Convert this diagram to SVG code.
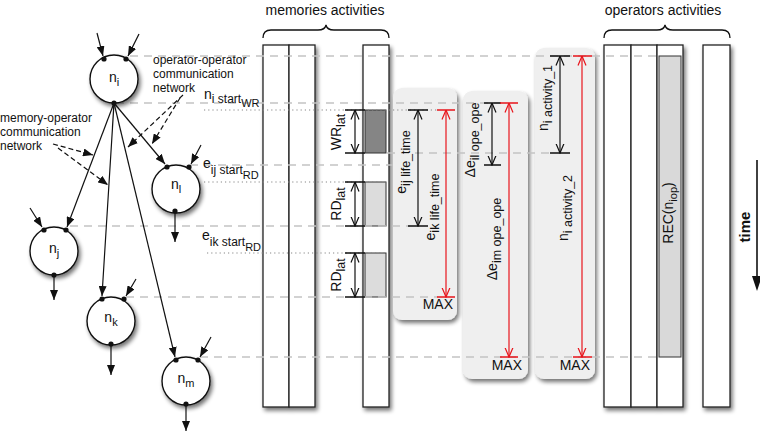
<svg xmlns="http://www.w3.org/2000/svg" width="760" height="435" viewBox="0 0 760 435">
<defs>
<style>
text{font-family:"Liberation Sans",Arial,sans-serif;fill:#111;}
.lbl{font-size:12px}
.t14{font-size:14px}
.sub{font-size:12px}
.rs{font-size:12.5px}
.ss{font-size:11px}
.col{fill:#fff;stroke:#222;stroke-width:1.3}
.gbox{fill:#efefef}
.dash{stroke:#c4c4c4;stroke-width:1.3;stroke-dasharray:8 6;fill:none}
.dot{stroke:#888;stroke-width:1.2;stroke-dasharray:1.2 3;fill:none}
.edge{stroke:#111;stroke-width:1.2;fill:none;marker-end:url(#ah)}
.net{stroke:#111;stroke-width:1.2;stroke-dasharray:5 3;fill:none;marker-end:url(#ah)}
.node{fill:#fff;stroke:#111;stroke-width:1.4}
.port{fill:#111}
.dim{stroke:#111;stroke-width:1.2;fill:none;marker-start:url(#vb);marker-end:url(#vb)}
.rdim{stroke:#e8141b;stroke-width:1.2;fill:none;marker-start:url(#vr);marker-end:url(#vr)}
.tick{stroke:#111;stroke-width:1.3}
.rtick{stroke:#e8141b;stroke-width:1.6}
.mbox{stroke:#333;stroke-width:1}
</style>
<filter id="sh" x="-30%" y="-10%" width="170%" height="125%">
<feGaussianBlur in="SourceAlpha" stdDeviation="2"/>
<feOffset dx="2" dy="3"/>
<feComponentTransfer><feFuncA type="linear" slope="0.55"/></feComponentTransfer>
<feMerge><feMergeNode/><feMergeNode in="SourceGraphic"/></feMerge>
</filter>
<marker id="ah" viewBox="0 0 10 8" refX="10" refY="4" markerWidth="10" markerHeight="8" markerUnits="userSpaceOnUse" orient="auto"><path d="M0,0 L10,4 L0,8 z" fill="#111"/></marker>
<marker id="vb" viewBox="0 0 10 10" refX="9.5" refY="5" markerWidth="10" markerHeight="10" markerUnits="userSpaceOnUse" orient="auto-start-reverse"><path d="M0,1 L9.5,5 L0,9" fill="none" stroke="#111" stroke-width="1.2"/></marker>
<marker id="vr" viewBox="0 0 10 10" refX="9.5" refY="5" markerWidth="10" markerHeight="10" markerUnits="userSpaceOnUse" orient="auto-start-reverse"><path d="M0,1 L9.5,5 L0,9" fill="none" stroke="#e8141b" stroke-width="1.2"/></marker>
</defs>

<!-- headers and braces -->
<g id="headers">
<text class="t14" x="325" y="15" text-anchor="middle">memories activities</text>
<text class="t14" x="663" y="15" text-anchor="middle">operators activities</text>
<path d="M263,38 Q263,30 271,30 L318,30 Q325,30 326,25 Q327,30 334,30 L381,30 Q389,30 389,38" fill="none" stroke="#111" stroke-width="1.3"/>
<path d="M604,38 Q604,30 612,30 L657,30 Q664,30 665,25 Q666,30 673,30 L722,30 Q730,30 730,38" fill="none" stroke="#111" stroke-width="1.3"/>
</g>

<!-- memory columns -->
<g id="memories" filter="url(#sh)">
<rect class="col" x="263" y="45" width="26" height="362"/>
<rect class="col" x="289" y="45" width="26" height="362"/>
<rect class="col" x="363" y="45" width="26" height="362"/>
</g>
<g id="mem-boxes">
<rect class="mbox" x="365" y="110" width="21" height="43" fill="#858585"/>
<rect class="mbox" x="365" y="182" width="21" height="44" fill="#dcdcdc"/>
<rect class="mbox" x="365" y="253" width="21" height="44" fill="#dcdcdc"/>
</g>

<!-- operator columns -->
<g id="operators" filter="url(#sh)">
<rect class="col" x="604" y="45" width="27" height="362"/>
<rect class="col" x="631" y="45" width="26" height="362"/>
<rect class="col" x="657" y="45" width="26" height="362"/>
<rect class="col" x="703" y="45" width="27" height="362"/>
</g>
<g id="rec">
<rect x="659" y="56" width="22" height="301" fill="#d9d9d9" stroke="#333" stroke-width="1"/>
<text class="t14" transform="translate(673,213) rotate(-90)" text-anchor="middle">REC(n<tspan class="ss" dy="4">iop</tspan><tspan dy="-4">)</tspan></text>
</g>

<!-- gray panels -->
<g id="panels" filter="url(#sh)">
<rect class="gbox" x="393" y="88" width="64" height="232" rx="9"/>
<rect class="gbox" x="463" y="91" width="65" height="288" rx="9"/>
<rect class="gbox" x="535" y="48" width="60" height="331" rx="9"/>
</g>

<!-- guide lines -->
<g id="guides">
<path class="dash" d="M130,56 H657"/>
<path class="dash" d="M116,103 H500"/>
<path class="dash" d="M387,153 H551"/>
<path class="dash" d="M190,165 H393"/>
<path class="dash" d="M70,226 H410"/>
<path class="dash" d="M126,297 H438"/>
<path class="dash" d="M200,357 H659"/>
<path class="dot" d="M204,110 H437"/>
<path class="dot" d="M204,182 H386"/>
<path class="dot" d="M207,253 H386"/>
</g>

<!-- dimension arrows -->
<g id="dims">
<path class="dim" d="M355,110 V153"/>
<path class="tick" d="M345,110 H365 M345,153 H365"/>
<path class="dim" d="M355,182 V226"/>
<path class="tick" d="M345,182 H365 M345,226 H365"/>
<path class="dim" d="M355,253 V297"/>
<path class="tick" d="M345,253 H365 M345,297 H365"/>

<path class="dim" d="M418,110 V226"/>
<path class="tick" d="M408,110 H428 M408,226 H428"/>
<path class="rdim" d="M446,110 V297"/>
<path class="rtick" d="M437,110 H455 M437,297 H455"/>

<path class="dim" d="M492,103 V165"/>
<path class="tick" d="M484,103 H501 M484,165 H501"/>
<path class="rdim" d="M509,103 V357"/>
<path class="rtick" d="M500,103 H518 M500,357 H518"/>

<path class="dim" d="M560,56 V153"/>
<path class="tick" d="M550,56 H570 M550,153 H570"/>
<path class="rdim" d="M582,56 V357"/>
<path class="rtick" d="M573,56 H592 M573,357 H592"/>
</g>

<!-- labels -->
<g id="labels">
<text class="t14" transform="translate(341,132) rotate(-90)" text-anchor="middle">WR<tspan class="rs" dy="4">lat</tspan></text>
<text class="t14" transform="translate(341,204) rotate(-90)" text-anchor="middle">RD<tspan class="rs" dy="4">lat</tspan></text>
<text class="t14" transform="translate(341,275) rotate(-90)" text-anchor="middle">RD<tspan class="rs" dy="4">lat</tspan></text>
<text class="t14" transform="translate(406,162) rotate(-90)" text-anchor="middle">e<tspan class="rs" dy="4">ij life_time</tspan></text>
<text class="t14" transform="translate(435,207) rotate(-90)" text-anchor="middle">e<tspan class="rs" dy="4">ik life_time</tspan></text>
<text class="t14" transform="translate(475,140) rotate(-90)" text-anchor="middle">Δe<tspan class="rs" dy="4">il ope_ope</tspan></text>
<text class="t14" transform="translate(497,239) rotate(-90)" text-anchor="middle">Δe<tspan class="rs" dy="4">im ope_ope</tspan></text>
<text class="t14" transform="translate(548,98) rotate(-90)" text-anchor="middle">n<tspan class="rs" dy="4">i activity_1</tspan></text>
<text class="t14" transform="translate(568,208) rotate(-90)" text-anchor="middle">n<tspan class="rs" dy="4">i activity_2</tspan></text>
<text class="t14" x="453" y="309" text-anchor="end">MAX</text>
<text class="t14" x="522" y="370" text-anchor="end">MAX</text>
<text class="t14" x="590" y="370" text-anchor="end">MAX</text>

<text class="t14" x="204" y="99">n<tspan class="sub" dy="4">i start</tspan><tspan class="ss" dy="4">WR</tspan></text>
<text class="t14" x="203" y="168">e<tspan class="sub" dy="6">ij start</tspan><tspan class="ss" dy="5">RD</tspan></text>
<text class="t14" x="202" y="240">e<tspan class="sub" dy="6">ik start</tspan><tspan class="ss" dy="5">RD</tspan></text>

<text class="lbl" x="153" y="64">operator-operator</text>
<text class="lbl" x="153" y="78">communication</text>
<text class="lbl" x="153" y="92">network</text>
<text class="lbl" x="0" y="122">memory-operator</text>
<text class="lbl" x="0" y="136">communication</text>
<text class="lbl" x="0" y="150">network</text>

<text transform="translate(750,227) rotate(-90)" text-anchor="middle" font-size="15" font-weight="bold">time</text>
</g>

<!-- connectors -->
<g id="connectors">
<path class="edge" d="M114,103 L67,227"/>
<path class="edge" d="M114,103 L102,296"/>
<path class="edge" d="M114,103 L175,357"/>
<path class="edge" d="M114,103 L165,164"/>
<path class="edge" d="M97,33 L103,56"/>
<path class="edge" d="M139,34 L128,56"/>
<path class="edge" d="M201,145 L191,164"/>
<path class="edge" d="M30,208 L42,227"/>
<path class="edge" d="M136,279 L126,296"/>
<path class="edge" d="M211,337 L200,357"/>
<path class="edge" d="M175,211 L175,242"/>
<path class="edge" d="M54,275 L54,300"/>
<path class="edge" d="M111,344 L111,375"/>
<path class="edge" d="M186,404 L186,431"/>
<path class="net" d="M183,95 L128,147"/>
<path class="net" d="M180,98 L152,144"/>
<path class="net" d="M53,144 L93,155"/>
<path class="net" d="M58,148 L108,185"/>
<path d="M757,160 V278" stroke="#111" stroke-width="1.6"/>
<path d="M752,276 L762,276 L757,291 z" fill="#111"/>
</g>

<!-- nodes -->
<g id="node-ni">
<circle class="node" cx="114" cy="79" r="24" filter="url(#sh)"/>
<circle class="port" cx="104" cy="59" r="2.6"/>
<circle class="port" cx="126" cy="59" r="2.6"/>
<circle class="port" cx="114" cy="103" r="2.6"/>
<text class="t14" x="114" y="82" text-anchor="middle">n<tspan class="ss" dy="4">i</tspan></text>
</g>
<g id="node-nl">
<circle class="node" cx="176" cy="189" r="24" filter="url(#sh)"/>
<circle class="port" cx="167" cy="167" r="2.6"/>
<circle class="port" cx="189" cy="167" r="2.6"/>
<circle class="port" cx="175" cy="211" r="2.6"/>
<text class="t14" x="176" y="189" text-anchor="middle">n<tspan class="ss" dy="4">l</tspan></text>
</g>
<g id="node-nj">
<circle class="node" cx="54" cy="251" r="24" filter="url(#sh)"/>
<circle class="port" cx="44" cy="230" r="2.6"/>
<circle class="port" cx="66" cy="230" r="2.6"/>
<circle class="port" cx="54" cy="275" r="2.6"/>
<text class="t14" x="54" y="253" text-anchor="middle">n<tspan class="ss" dy="4">j</tspan></text>
</g>
<g id="node-nk">
<circle class="node" cx="111" cy="321" r="24" filter="url(#sh)"/>
<circle class="port" cx="102" cy="299" r="2.6"/>
<circle class="port" cx="124" cy="299" r="2.6"/>
<circle class="port" cx="111" cy="344" r="2.6"/>
<text class="t14" x="111" y="322" text-anchor="middle">n<tspan class="ss" dy="4">k</tspan></text>
</g>
<g id="node-nm">
<circle class="node" cx="186" cy="381" r="24" filter="url(#sh)"/>
<circle class="port" cx="176" cy="360" r="2.6"/>
<circle class="port" cx="198" cy="360" r="2.6"/>
<circle class="port" cx="186" cy="404" r="2.6"/>
<text class="t14" x="186" y="383" text-anchor="middle">n<tspan class="ss" dy="4">m</tspan></text>
</g>
</svg>
